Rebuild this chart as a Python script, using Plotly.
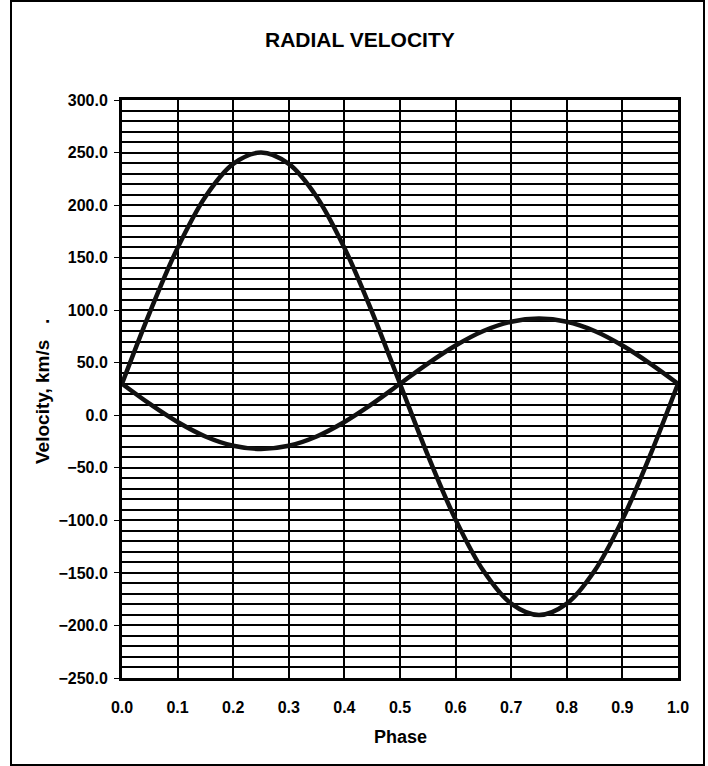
import plotly.graph_objects as go

# Orbital phase samples
phase = [0.00, 0.05, 0.10, 0.15, 0.20, 0.25, 0.30, 0.35, 0.40, 0.45, 0.50,
         0.55, 0.60, 0.65, 0.70, 0.75, 0.80, 0.85, 0.90, 0.95, 1.00]

# Radial velocity of the primary and secondary components (km/s)
velocity_a = [30.0, 98.0, 159.3, 208.0, 239.2, 250.0, 239.2, 208.0, 159.3, 98.0, 30.0,
              -38.0, -99.3, -148.0, -179.2, -190.0, -179.2, -148.0, -99.3, -38.0, 30.0]
velocity_b = [30.0, 10.8, -6.4, -20.2, -29.0, -32.0, -29.0, -20.2, -6.4, 10.8, 30.0,
              49.2, 66.4, 80.2, 89.0, 92.0, 89.0, 80.2, 66.4, 49.2, 30.0]

FONT = "Arial, Liberation Sans, sans-serif"

fig = go.Figure()
for vals in (velocity_a, velocity_b):
    fig.add_trace(go.Scatter(
        x=phase, y=vals, mode="lines",
        line=dict(color="#111111", width=4.5, shape="spline", smoothing=1.0),
        showlegend=False, hoverinfo="skip",
    ))

fig.update_layout(
    width=708, height=766,
    margin=dict(l=122, r=30, t=100, b=88),
    paper_bgcolor="white", plot_bgcolor="white",
    font=dict(family=FONT, size=16, color="black", weight="bold"),
    showlegend=False,
)

fig.update_xaxes(
    range=[0, 1], dtick=0.1, tick0=0, tickformat=".1f",
    showgrid=True, gridcolor="black", gridwidth=2,
    showline=True, linecolor="black", linewidth=3, mirror=True,
    ticks="", zeroline=False, ticklabelstandoff=13,
    tickfont=dict(family=FONT, size=16, color="black", weight="bold"),
)
fig.update_yaxes(
    range=[-250, 300], dtick=50, tick0=0, tickformat=".1f",
    showgrid=True, gridcolor="black", gridwidth=2,
    minor=dict(dtick=10, showgrid=True, gridcolor="black", gridwidth=2),
    showline=True, linecolor="black", linewidth=3, mirror=True,
    ticks="outside", ticklen=5, tickwidth=1, tickcolor="black",
    zeroline=False, ticklabelstandoff=3,
    tickfont=dict(family=FONT, size=16, color="black", weight="bold"),
)

# Title and axis captions
fig.add_annotation(text="RADIAL VELOCITY", xref="paper", yref="paper",
                   x=0.428, y=1.0 + 60 / 578, showarrow=False,
                   xanchor="center", yanchor="middle",
                   font=dict(family=FONT, size=21, color="black", weight="bold"))
fig.add_annotation(text="Phase", xref="paper", yref="paper",
                   x=0.5, y=-59 / 578, showarrow=False,
                   xanchor="center", yanchor="middle",
                   font=dict(family=FONT, size=18, color="black", weight="bold"))
fig.add_annotation(text="Velocity, km/s   .", xref="paper", yref="paper",
                   x=(42 - 122) / 556, y=(678 - 392) / 578, showarrow=False,
                   textangle=-90, xanchor="center", yanchor="middle",
                   font=dict(family=FONT, size=19, color="black", weight="bold"))

# Chart-area frame
fig.add_shape(type="rect", xref="paper", yref="paper",
              x0=(11 - 122) / 556, x1=(704 - 122) / 556,
              y0=(678 - 765) / 578, y1=1.0 + (100 - 1) / 578,
              line=dict(color="black", width=2), fillcolor="rgba(0,0,0,0)",
              layer="below")

fig.write_html("out.html")
